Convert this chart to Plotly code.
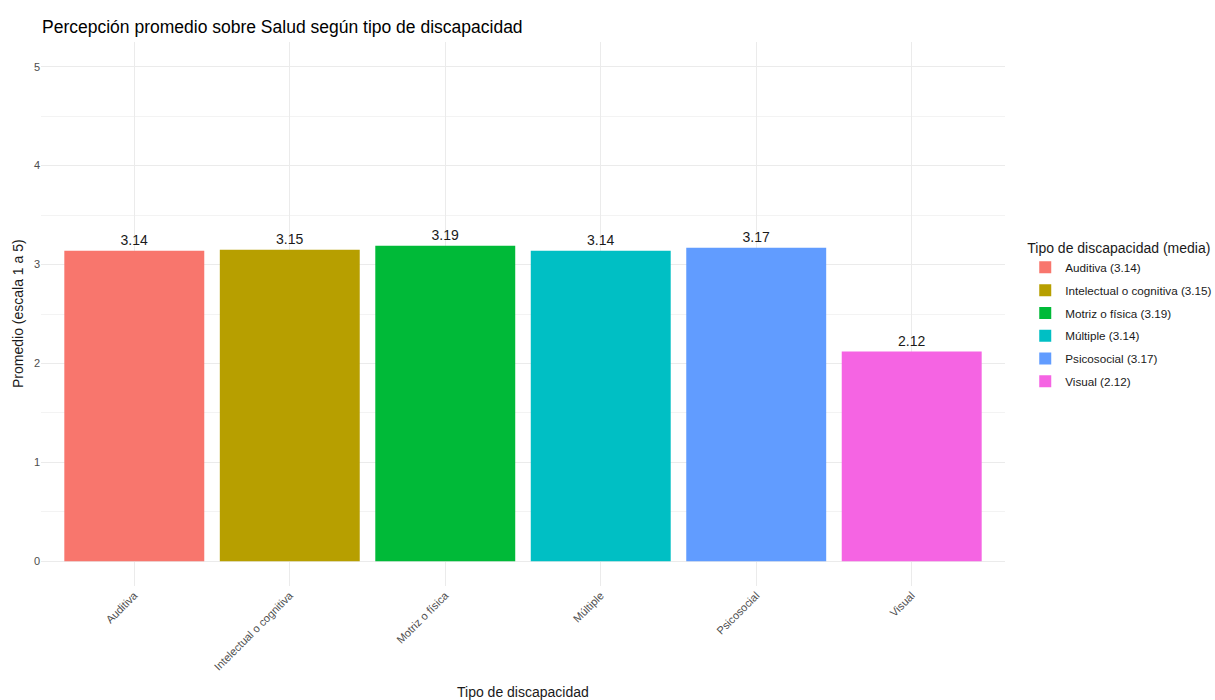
import plotly.graph_objects as go

categories = ["Auditiva", "Intelectual o cognitiva", "Motriz o física", "Múltiple", "Psicosocial", "Visual"]
values = [3.14, 3.15, 3.19, 3.14, 3.17, 2.12]
colors = ["#F8766D", "#B79F00", "#00BA38", "#00BFC4", "#619CFF", "#F564E3"]
y_ticks = [0, 1, 2, 3, 4, 5]

FONT = "Liberation Sans, Arial, sans-serif"

fig = go.Figure()
for cat, val, col in zip(categories, values, colors):
    fig.add_trace(go.Bar(
        x=[cat], y=[val], name=f"{cat} ({val:.2f})",
        legendgroup=cat,
        marker=dict(color=col, line=dict(width=0)),
        width=0.9,
        text=[f"{val:.2f}"], textposition="outside",
        textfont=dict(family=FONT, size=14, color="#1a1a1a"),
        cliponaxis=False,
    ))

W, H = 1215, 700
ML, MR, MT, MB = 41, 210, 42, 114

fig.update_layout(
    width=W, height=H,
    barmode="overlay",
    paper_bgcolor="white", plot_bgcolor="white",
    margin=dict(l=ML, r=MR, t=MT, b=MB, autoexpand=False),
    font=dict(family=FONT, color="#1a1a1a"),
    title=dict(text="Percepción promedio sobre Salud según tipo de discapacidad",
               x=42 / W, xanchor="left", y=1 - 27 / H, yanchor="middle",
               font=dict(size=17.5, color="#000000")),
    legend=dict(
        title=dict(text="Tipo de discapacidad (media)", font=dict(size=14, color="#1a1a1a")),
        font=dict(size=11.7, color="#1a1a1a"),
        x=1.021, xanchor="left", y=0.497, yanchor="middle",
        tracegroupgap=3.8, itemwidth=30,
    ),
    showlegend=True,
    annotations=[
        dict(text="Tipo de discapacidad", xref="paper", yref="paper",
             x=0.5, y=-(692 - (H - MB)) / (H - MT - MB), xanchor="center", yanchor="middle",
             showarrow=False, font=dict(size=14, color="#1a1a1a")),
        dict(text="Promedio (escala 1 a 5)", xref="paper", yref="paper",
             x=-(ML - 18) / (W - ML - MR), y=0.5, xanchor="center", yanchor="middle",
             textangle=-90, showarrow=False, font=dict(size=14, color="#1a1a1a")),
    ],
)

fig.update_xaxes(
    range=[-0.6, 5.6],
    tickangle=-45,
    tickfont=dict(size=11, color="#4D4D4D"),
    showgrid=True, gridcolor="#EBEBEB", gridwidth=1,
    zeroline=False, showline=False,
    ticks="", automargin=False,
)
fig.update_yaxes(
    range=[-0.25, 5.25],
    tickvals=y_ticks,
    tickfont=dict(size=11, color="#4D4D4D"),
    showgrid=True, gridcolor="#EBEBEB", gridwidth=1,
    minor=dict(dtick=0.5, showgrid=True, gridcolor="#F3F3F3", gridwidth=0.6),
    zeroline=False, showline=False,
    ticks="", automargin=False,
)

fig.write_html("out.html", config={"displayModeBar": False},
               post_script="document.body.style.margin='0';")
